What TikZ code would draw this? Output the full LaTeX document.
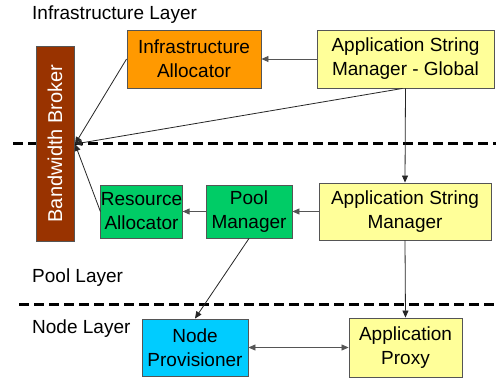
\documentclass[tikz,border=0pt]{standalone}
\usepackage{fontspec}
\setmainfont{Liberation Sans}
\usetikzlibrary{arrows.meta}
\definecolor{orangebox}{HTML}{FF9900}
\definecolor{yellowbox}{HTML}{FFFF99}
\definecolor{greenbox}{HTML}{00CC66}
\definecolor{cyanbox}{HTML}{00CCFF}
\definecolor{brownbox}{HTML}{993300}
\definecolor{edgegray}{HTML}{555555}
\begin{document}
\begin{tikzpicture}[x=1pt,y=-1pt,
  box/.style={draw=edgegray,line width=0.9pt,rectangle,inner sep=0pt,align=center,
    font=\fontsize{19}{24}\selectfont},
  conn/.style={draw=black!85,line width=0.8pt,-{Triangle[length=7pt,width=6pt]}},
  layerlabel/.style={anchor=west,inner sep=0pt,font=\fontsize{19}{23}\selectfont},
  layerline/.style={line width=3pt,dash pattern=on 10pt off 5pt}]
\useasboundingbox (0,0) rectangle (496,379);
\fill[white] (0,0) rectangle (496,379);
% layer separators
\draw[layerline] (13,144) -- (496,144);
\draw[layerline] (19,305) -- (496,305);
% layer labels
\node[layerlabel] (L1) at (32,15) {Infrastructure Layer};
\node[layerlabel] (L2) at (32,278) {Pool Layer};
\node[layerlabel] (L3) at (32,329) {Node Layer};
% boxes
\node[box,fill=brownbox,minimum width=38pt,minimum height=195pt,font=\fontsize{20}{24}\selectfont] (BB) at (55,143.5)
  {\rotatebox{90}{\color{white}Bandwidth Broker}};
\node[box,fill=orangebox,minimum width=134pt,minimum height=58pt] (IA) at (194,59)
  {Infrastructure\\Allocator};
\node[box,fill=yellowbox,minimum width=177pt,minimum height=58pt] (ASMG) at (405.5,59)
  {Application String\\Manager - Global};
\node[box,fill=yellowbox,minimum width=172pt,minimum height=57pt] (ASM) at (405,211.5)
  {Application String\\Manager};
\node[box,fill=greenbox,minimum width=86pt,minimum height=53pt] (PM) at (249,211.5)
  {Pool\\Manager};
\node[box,fill=greenbox,minimum width=81pt,minimum height=53pt] (RA) at (141.5,211.5)
  {Resource\\Allocator};
\node[box,fill=cyanbox,minimum width=106pt,minimum height=57pt] (NP) at (195,347.5)
  {Node\\Provisioner};
\node[box,fill=yellowbox,minimum width=113pt,minimum height=59pt] (AP) at (405.5,347.5)
  {Application\\Proxy};
\coordinate (BBP) at (75,144);
% connectors
\draw[conn,draw=edgegray] (ASMG.west) -- (IA.east);
\draw[conn] (IA.west) -- (BBP);
\draw[conn] ([xshift=-3pt]ASMG.south) -- (BBP);
\draw[conn] (ASMG.south) -- (ASM.north);
\draw[conn] (RA.west) -- (BBP);
\draw[conn,draw=edgegray] (ASM.west) -- (PM.east);
\draw[conn,draw=edgegray] (PM.west) -- (RA.east);
\draw[conn] (PM.south) -- (NP.north);
\draw[conn] (ASM.south) -- (AP.north);
\draw[conn,draw=edgegray,{Triangle[length=7pt,width=6pt]}-{Triangle[length=7pt,width=6pt]}] (NP.east) -- (AP.west);
\end{tikzpicture}
\end{document}
